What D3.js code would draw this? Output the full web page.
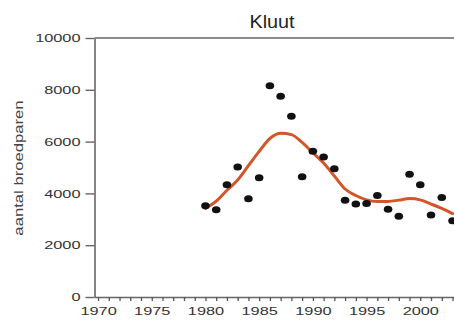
<!DOCTYPE html>
<html>
<head>
<meta charset="utf-8">
<script src="https://cdn.jsdelivr.net/npm/d3@7"></script>
<style>
  html, body { margin: 0; padding: 0; background: #fff; }
  svg { display: block; }
  text { font-family: "Liberation Sans", Arial, sans-serif; }
</style>
</head>
<body>
<svg id="chart" width="454" height="320"></svg>
<script>
const title = "Kluut";
const yLabel = "aantal broedparen";
const years = [1980,1981,1982,1983,1984,1985,1986,1987,1988,1989,1990,1991,1992,1993,1994,1995,1996,1997,1998,1999,2000,2001,2002,2003];
const counts = [3520,3370,4330,5020,3790,4600,8160,7750,6980,4640,5630,5410,4950,3740,3590,3610,3920,3390,3120,4740,4330,3170,3840,2940];
const trend = [3420,3700,4120,4520,5070,5620,6120,6320,6270,5970,5570,5170,4670,4170,3920,3750,3690,3690,3740,3800,3750,3590,3420,3220];
const yTicks = [0,2000,4000,6000,8000,10000];
const xMajor = [1970,1975,1980,1985,1990,1995,2000];

const svg = d3.select("#chart");
const mLeft = 94.5, mRight = 474, mTop = 38, mBottom = 297;
const stretch = 1.42;

const x = d3.scaleLinear().domain([1969.67, 2005]).range([mLeft, mRight]);
const y = d3.scaleLinear().domain([0, 10000]).range([mBottom, mTop]);

// y axis
const gy = svg.append("g").attr("transform", `translate(${mLeft},0)`)
  .call(d3.axisLeft(y).tickValues(yTicks).tickSize(9).tickSizeOuter(0).tickFormat(d3.format("d")));
gy.select(".domain").attr("stroke", "#666").attr("stroke-width", 1.6);
gy.selectAll(".tick line").attr("stroke", "#666").attr("stroke-width", 1.4);
gy.selectAll(".tick text")
  .attr("x", -14 / stretch)
  .attr("transform", `scale(${stretch},1)`)
  .attr("fill", "#333")
  .style("font-size", "11.5px");

// x axis
const gx = svg.append("g").attr("transform", `translate(0,${mBottom})`)
  .call(d3.axisBottom(x).tickValues(d3.range(1970, 2006)).tickSize(4).tickSizeOuter(0).tickPadding(6)
    .tickFormat(d => xMajor.includes(d) ? String(d) : ""));
gx.select(".domain").attr("stroke", "#666").attr("stroke-width", 1.6);
gx.selectAll(".tick line").attr("stroke", "#555").attr("stroke-width", 1.3);
gx.selectAll(".tick text")
  .attr("transform", `scale(${stretch},1)`)
  .attr("fill", "#333")
  .style("font-size", "11.5px");

// top frame line
svg.append("line")
  .attr("x1", mLeft).attr("x2", 454)
  .attr("y1", y(10000)).attr("y2", y(10000))
  .attr("stroke", "#666").attr("stroke-width", 1.6);

// title
svg.append("text")
  .attr("transform", `translate(272,28) scale(1.1,1)`)
  .attr("text-anchor", "middle")
  .attr("fill", "#222")
  .style("font-size", "18px")
  .text(title);

// y label
svg.append("text")
  .attr("transform", `translate(23,168) rotate(-90) scale(1.39,1)`)
  .attr("text-anchor", "middle")
  .attr("fill", "#444")
  .style("font-size", "12px")
  .text(yLabel);

// trend line
const line = d3.line()
  .x((d, i) => x(years[i]))
  .y(d => y(d))
  .curve(d3.curveMonotoneX);
svg.append("path")
  .datum(trend)
  .attr("d", line)
  .attr("fill", "none")
  .attr("stroke", "#d4552a")
  .attr("stroke-width", 3)
  .attr("stroke-linecap", "round");

// points
svg.append("g").selectAll("ellipse")
  .data(counts)
  .join("ellipse")
  .attr("cx", (d, i) => x(years[i]))
  .attr("cy", d => y(d))
  .attr("rx", 4.3)
  .attr("ry", 3.5)
  .attr("fill", "#111");
</script>
</body>
</html>
